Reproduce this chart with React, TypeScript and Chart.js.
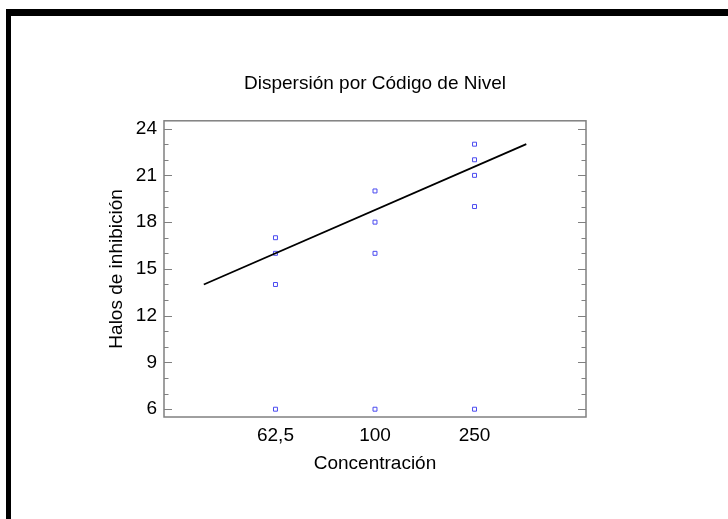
import React, { useEffect, useRef } from "react";
import { Chart, registerables } from "chart.js";

Chart.register(...registerables);

const categories = ["62,5", "100", "250"];
const categoryPositions = [1, 2, 3];
const seriesLow = [17, 16, 14, 6];
const seriesMid = [20, 18, 16, 6];
const seriesHigh = [23, 22, 21, 19, 6];
const fitLineX = [0.28, 3.52];
const fitLineY = [14.0, 23.0];
const yTicks = [6, 9, 12, 15, 18, 21, 24];

const FONT = "Arial, 'Liberation Sans', Helvetica, sans-serif";

const centerTitleOnPlot = {
  id: "centerTitleOnPlot",
  afterLayout(chart: any) {
    const t = chart.titleBlock;
    if (!t) return;
    t.left = chart.chartArea.left;
    t.right = chart.chartArea.right;
    t.width = t.right - t.left;
  },
};

const frameBox = {
  id: "frameBox",
  afterDraw(chart: any) {
    const { ctx, chartArea } = chart;
    const { left, right, top, bottom } = chartArea;
    const y = chart.scales.y;
    ctx.save();
    ctx.strokeStyle = "#808080";
    ctx.lineWidth = 1.5;
    ctx.strokeRect(left, top, right - left, bottom - top);
    ctx.lineWidth = 1.2;
    for (let v = Math.ceil(y.min); v <= y.max; v += 1) {
      const py = Math.round(y.getPixelForValue(v)) + 0.5;
      const major = yTicks.includes(v);
      const len = major ? 8 : 4.5;
      ctx.beginPath();
      ctx.moveTo(left, py);
      ctx.lineTo(left + len, py);
      ctx.moveTo(right, py);
      ctx.lineTo(right - len, py);
      ctx.stroke();
    }
    ctx.restore();
  },
};

export default function App() {
  const ref = useRef<HTMLCanvasElement | null>(null);
  useEffect(() => {
    if (!ref.current) return;
    const pts = (vals: number[], x: number) => vals.map((v) => ({ x, y: v }));
    const markerStyle = {
      showLine: false,
      pointStyle: "rect" as const,
      pointRadius: 2.8,
      pointBorderWidth: 1,
      pointBorderColor: "#4a4af0",
      pointBackgroundColor: "#ffffff",
    };
    const chart = new Chart(ref.current, {
      type: "scatter",
      data: {
        datasets: [
          {
            type: "line",
            data: fitLineX.map((x, i) => ({ x, y: fitLineY[i] })),
            borderColor: "#000000",
            borderWidth: 1.8,
            pointRadius: 0,
            fill: false,
          } as any,
          { data: pts(seriesLow, categoryPositions[0]), ...markerStyle },
          { data: pts(seriesMid, categoryPositions[1]), ...markerStyle },
          { data: pts(seriesHigh, categoryPositions[2]), ...markerStyle },
        ],
      },
      options: {
        animation: false,
        responsive: false,
        layout: { padding: { top: 72, left: 105, right: 142, bottom: 44 } },
        plugins: {
          legend: { display: false },
          tooltip: { enabled: false },
          title: {
            display: true,
            text: "Dispersión por Código de Nivel",
            color: "#000",
            font: { family: FONT, size: 19, weight: "normal" },
            padding: { top: 0, bottom: 26 },
          },
        },
        scales: {
          x: {
            type: "linear",
            min: -0.12,
            max: 4.12,
            afterBuildTicks: (s: any) => {
              s.ticks = categoryPositions.map((v) => ({ value: v }));
            },
            afterFit: (s: any) => {
              s.height = 58;
            },
            ticks: {
              color: "#000",
              font: { family: FONT, size: 19 },
              padding: 7,
              maxRotation: 0,
              callback: (v: any) => {
                const i = categoryPositions.indexOf(Number(v));
                return i >= 0 ? categories[i] : "";
              },
            },
            grid: { display: false, drawTicks: false },
            border: { display: false },
            title: {
              display: true,
              text: "Concentración",
              color: "#000",
              font: { family: FONT, size: 19 },
              padding: { top: 0, bottom: 0 },
            },
          },
          y: {
            type: "linear",
            min: 5.5,
            max: 24.5,
            afterBuildTicks: (s: any) => {
              s.ticks = yTicks.map((v) => ({ value: v }));
            },
            afterFit: (s: any) => {
              s.width = 59;
            },
            ticks: {
              color: "#000",
              font: { family: FONT, size: 19 },
              padding: 7,
            },
            grid: { display: false, drawTicks: false },
            border: { display: false },
            title: {
              display: true,
              text: "Halos de inhibición",
              color: "#000",
              font: { family: FONT, size: 19 },
              padding: { top: 0, bottom: 0 },
            },
          },
        },
      },
      plugins: [centerTitleOnPlot, frameBox],
    });
    return () => chart.destroy();
  }, []);

  return (
    <div style={{ position: "fixed", left: 0, top: 0, width: 728, height: 519, background: "#fff" }}>
      <canvas ref={ref} width={728} height={519} style={{ position: "absolute", left: 0, top: 0 }} />
      <div style={{ position: "absolute", left: 6, top: 9, width: 722, height: 7, background: "#000" }} />
      <div style={{ position: "absolute", left: 6, top: 9, width: 5, height: 510, background: "#000" }} />
    </div>
  );
}
